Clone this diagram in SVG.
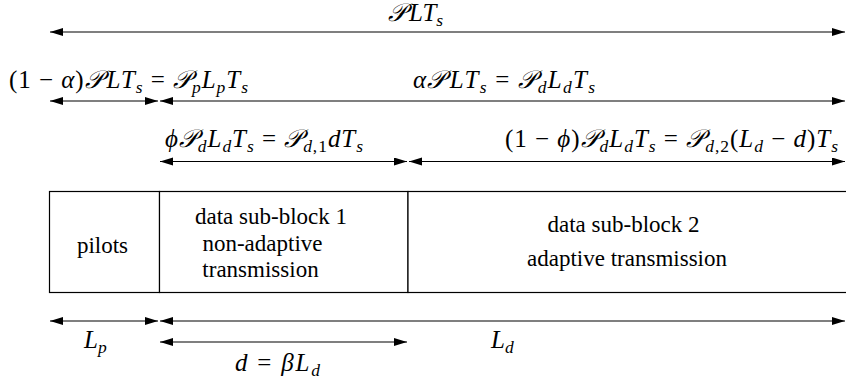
<svg xmlns="http://www.w3.org/2000/svg" width="846" height="383" viewBox="0 0 846 383">
  <style>
    text { font-family: "Liberation Serif", "Times New Roman", Times, Tinos, "Noto Serif", "DejaVu Serif", serif; fill: #000; }
    .arr { stroke: #000; stroke-width: 1.2; fill: none; marker-start: url(#ah); marker-end: url(#ah); }
    .box { stroke: #000; stroke-width: 1.2; fill: #fff; }
    .t { font-size: 23px; }
    .m { font-size: 25px; }
    .i { font-style: italic; }
    .sb { font-size: 17.5px; font-style: italic; }
    .sr { font-size: 17.5px; }
  </style>
  <defs>
    <marker id="ah" markerUnits="userSpaceOnUse" markerWidth="14" markerHeight="9" refX="13" refY="4" orient="auto-start-reverse">
      <path d="M0,0 L13,4 L0,8 Z" fill="#000"/>
    </marker>
  </defs>
  <rect width="846" height="383" fill="#fff"/>

  <g id="pilots">
    <rect class="box" x="49.5" y="191.5" width="110" height="101"/>
    <text class="t" x="102.5" y="253" text-anchor="middle">pilots</text>
  </g>
  <g id="sub-block-1">
    <rect class="box" x="159.5" y="191.5" width="248.5" height="101"/>
    <text class="t" x="271" y="224" text-anchor="middle">data sub-block 1</text>
    <text class="t" x="262.5" y="251" text-anchor="middle">non-adaptive</text>
    <text class="t" x="260.5" y="277" text-anchor="middle">transmission</text>
  </g>
  <g id="sub-block-2">
    <rect class="box" x="408" y="191.5" width="445" height="101"/>
    <text class="t" x="623.5" y="232" text-anchor="middle">data sub-block 2</text>
    <text class="t" x="627" y="266" text-anchor="middle">adaptive transmission</text>
  </g>

  <g id="connectors">
    <line class="arr" x1="50" y1="32" x2="845" y2="32"/>
    <line class="arr" x1="50" y1="101" x2="158" y2="101"/>
    <line class="arr" x1="160" y1="101" x2="845" y2="101"/>
    <line class="arr" x1="160" y1="161.5" x2="407" y2="161.5"/>
    <line class="arr" x1="409" y1="161.5" x2="845" y2="161.5"/>
    <line class="arr" x1="50" y1="321" x2="158" y2="321"/>
    <line class="arr" x1="160" y1="321" x2="845" y2="321"/>
    <line class="arr" x1="160" y1="342" x2="407" y2="342"/>
  </g>

  <g id="labels">
    <text class="m" x="388" y="21"><tspan class="i">𝒫</tspan><tspan class="i" dx="3">LT</tspan><tspan class="sb" dy="5">s</tspan></text>

    <text class="m" x="9" y="88" textLength="239">(1 − <tspan class="i">α</tspan>)<tspan class="i">𝒫</tspan><tspan class="i" dx="3">LT</tspan><tspan class="sb" dy="5">s</tspan><tspan dy="-5"> = </tspan><tspan class="i">𝒫</tspan><tspan class="sb" dy="5">p</tspan><tspan class="i" dy="-5">L</tspan><tspan class="sb" dy="5">p</tspan><tspan class="i" dy="-5">T</tspan><tspan class="sb" dy="5">s</tspan></text>

    <text class="m" x="413" y="88" textLength="182"><tspan class="i">α𝒫</tspan><tspan class="i" dx="3">LT</tspan><tspan class="sb" dy="5">s</tspan><tspan dy="-5"> = </tspan><tspan class="i">𝒫</tspan><tspan class="sb" dy="5">d</tspan><tspan class="i" dy="-5">L</tspan><tspan class="sb" dy="5">d</tspan><tspan class="i" dy="-5">T</tspan><tspan class="sb" dy="5">s</tspan></text>

    <text class="m" x="165" y="147" textLength="198"><tspan class="i">ϕ𝒫</tspan><tspan class="sb" dy="5">d</tspan><tspan class="i" dy="-5">L</tspan><tspan class="sb" dy="5">d</tspan><tspan class="i" dy="-5">T</tspan><tspan class="sb" dy="5">s</tspan><tspan dy="-5"> = </tspan><tspan class="i">𝒫</tspan><tspan class="sb" dy="5">d</tspan><tspan class="sr">,1</tspan><tspan class="i" dy="-5">dT</tspan><tspan class="sb" dy="5">s</tspan></text>

    <text class="m" x="505" y="147" textLength="333">(1 − <tspan class="i">ϕ</tspan>)<tspan class="i">𝒫</tspan><tspan class="sb" dy="5">d</tspan><tspan class="i" dy="-5">L</tspan><tspan class="sb" dy="5">d</tspan><tspan class="i" dy="-5">T</tspan><tspan class="sb" dy="5">s</tspan><tspan dy="-5"> = </tspan><tspan class="i">𝒫</tspan><tspan class="sb" dy="5">d</tspan><tspan class="sr">,2</tspan><tspan dy="-5">(</tspan><tspan class="i">L</tspan><tspan class="sb" dy="5">d</tspan><tspan dy="-5"> − </tspan><tspan class="i">d</tspan>)<tspan class="i">T</tspan><tspan class="sb" dy="5">s</tspan></text>

    <text class="m" x="84" y="348"><tspan class="i">L</tspan><tspan class="sb" dy="5">p</tspan></text>
    <text class="m" x="491" y="348"><tspan class="i">L</tspan><tspan class="sb" dy="5">d</tspan></text>
    <text class="m" x="235" y="371" textLength="85"><tspan class="i">d</tspan> = <tspan class="i">βL</tspan><tspan class="sb" dy="5">d</tspan></text>
  </g>
</svg>
